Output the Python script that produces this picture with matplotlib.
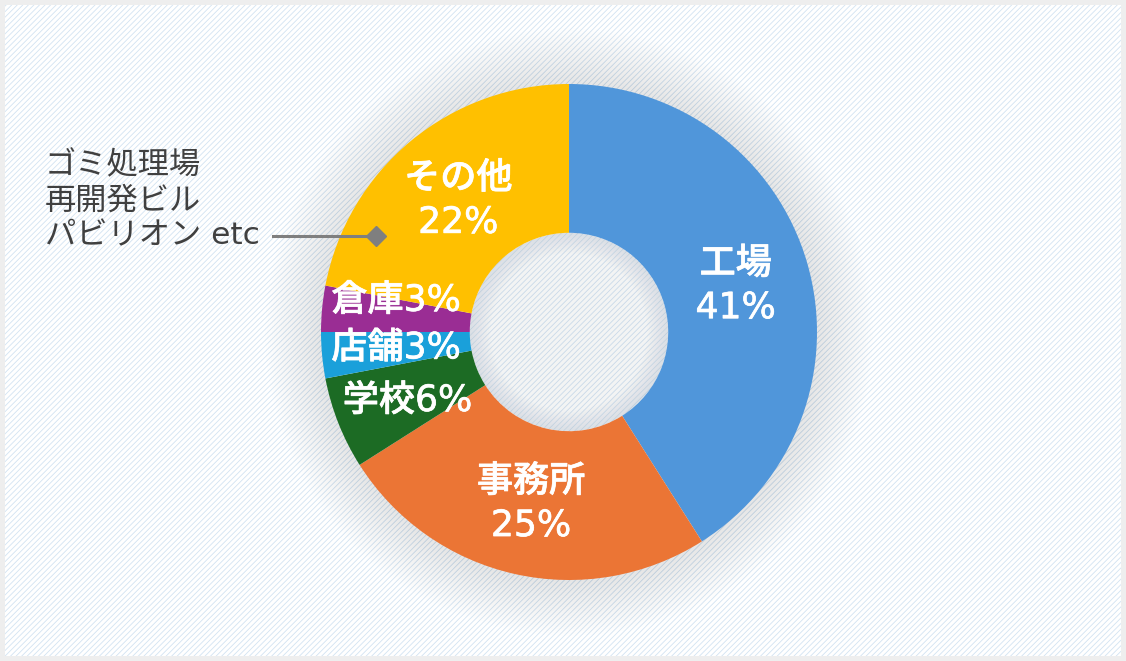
import matplotlib.pyplot as plt
import matplotlib.patches as mpatches
import matplotlib.patheffects as pe
import numpy as np

plt.rcParams['font.family'] = ['DejaVu Sans', 'Noto Sans CJK JP']
plt.rcParams['hatch.linewidth'] = 0.6

# data
categories = ['工場', '事務所', '学校', '店舗', '倉庫', 'その他']
shares = [41, 25, 6, 3, 3, 22]
colors = ['#5096DA', '#EB7535', '#1C6B24', '#1AA0DA', '#9A2D94', '#FFC000']
note_lines = ['ゴミ処理場', '再開発ビル', 'パビリオン etc']

W, H = 1126, 661
fig = plt.figure(figsize=(W / 100, H / 100), dpi=100, facecolor='#eeeeee')

ax = fig.add_axes([0, 0, 1, 1])
ax.set_facecolor('none')
R = 248.0
cx, cy = 569, 661 - 332

# hatched background panel
ax.add_patch(mpatches.Rectangle((5 / W, 5 / H), 1 - 10 / W, 1 - 10 / H, transform=ax.transAxes,
                                facecolor='white', edgecolor='#d2e3f2', hatch='//////',
                                linewidth=0, zorder=0))

wedges, _ = ax.pie(shares, colors=colors, startangle=90, counterclock=False, radius=1.0,
                   wedgeprops=dict(width=0.6, linewidth=0), normalize=True)
for w in wedges:
    w.set_zorder(2.5)

ax.set_xlim(-cx / R, (W - cx) / R)
ax.set_ylim(-cy / R, (H - cy) / R)
ax.set_aspect('equal')
ax.axis('off')

# soft shadow round the ring and inside the hole
shade = '#5c6570'
for i in range(25):
    ax.add_patch(mpatches.Wedge((0, 0), 1.0 + 0.009 * (i + 1), 0, 360, width=0.009 * (i + 1) + 0.005,
                                facecolor=shade, alpha=0.0055, lw=0, zorder=1))
ax.add_patch(mpatches.Circle((0, 0), 0.4, facecolor=shade, alpha=0.07, lw=0, zorder=2))
for i in range(12):
    ax.add_patch(mpatches.Wedge((0, 0), 0.4, 0, 360, width=0.007 * (i + 1),
                                facecolor=shade, alpha=0.008, lw=0, zorder=2))

# labels
thick = [pe.withStroke(linewidth=0.5, foreground='white')]
tot = sum(shares)
cum = 0
for name, v in zip(categories, shares):
    mid = np.deg2rad(90 - (cum + v / 2) / tot * 360)
    cum += v
    x, y = 0.70 * np.cos(mid), 0.70 * np.sin(mid)
    if v >= 10:
        txt = f'{name}\n{v}%'
        y -= 0.01
    else:
        txt = f'{name}{v}%'
        if name == '倉庫':
            y += 0.06
        if name == '学校':
            y -= 0.02
    ax.text(x, y, txt, ha='center', va='center', color='white', fontsize=26,
            fontweight='medium', linespacing=1.38, zorder=5, path_effects=thick)

# callout for その他
px, py = 0.87 * np.cos(np.deg2rad(153.7)), 0.87 * np.sin(np.deg2rad(153.7))
ax.plot([-1.194, px], [py, py], color='#7f7f7f', lw=2.2, zorder=6)
ax.plot([px], [py], marker='D', ms=10, color='#7f7f7f', zorder=6)
ax.text(-2.113, 0.53, '\n'.join(note_lines), ha='left', va='center', color='#404040',
        fontsize=22.5, linespacing=1.25, zorder=6)

fig.savefig('out.png', dpi=100, facecolor=fig.get_facecolor())
